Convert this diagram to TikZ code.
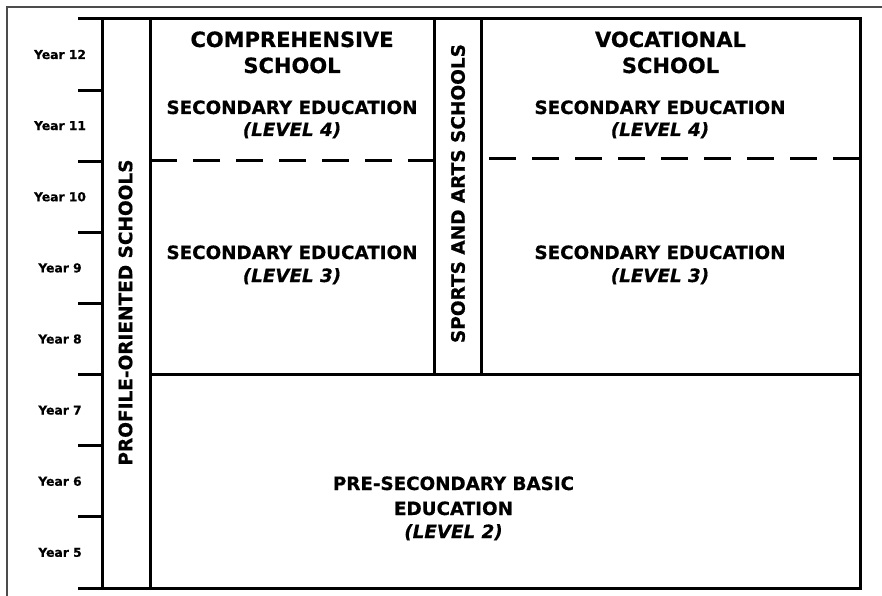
\documentclass[tikz,border=0pt]{standalone}
\usepackage{fontspec}
\setmainfont{DejaVu Sans}[BoldFeatures={FakeBold=0.6},BoldItalicFeatures={FakeBold=0.6}]
\begin{document}
\begin{tikzpicture}[x=1pt,y=-1pt,
  gridline/.style={line width=3pt,black},
  dashline/.style={line width=3pt,black,dash pattern=on 27pt off 16pt},
  pageframe/.style={line width=2pt,black!70},
  yearlabel/.style={inner sep=0pt,font=\bfseries\fontsize{12.3}{14}\selectfont},
  heading/.style={inner sep=0pt,anchor=base,font=\bfseries\fontsize{21}{25}\selectfont},
  bodytext/.style={inner sep=0pt,anchor=base,font=\bfseries\fontsize{18.3}{22}\selectfont},
  leveltext/.style={inner sep=0pt,anchor=base,font=\bfseries\itshape\fontsize{18.3}{22}\selectfont},
  sidetext/.style={inner sep=0pt,rotate=90,font=\bfseries\fontsize{18.5}{22}\selectfont}]
\useasboundingbox (0,0) rectangle (882,596);

% page frame, running off the right and bottom edges
\draw[pageframe] (7,620) -- (7,7) -- (900,7);

% outer box of the chart
\draw[gridline,line join=miter] (78,19) -- (860,19) -- (860,588) -- (78,588);
% year axis and the profile-oriented column
\draw[gridline] (102,19) -- (102,588);
\draw[gridline] (150,19) -- (150,588);
% year ticks
\foreach \k in {1,...,7}
  \draw[gridline] (78,{19+71.125*\k}) -- (102,{19+71.125*\k});
% sports and arts column
\draw[gridline] (434,19) -- (434,374);
\draw[gridline] (481,19) -- (481,374);
% boundary between basic and secondary education
\draw[gridline] (150,374) -- (860,374);
% boundary between level 3 and level 4
\draw[dashline] (150,161) -- (434,161);
\draw[dashline,dash phase=35pt] (481,159) -- (860,159);

% year labels
\foreach \yr [count=\i from 0] in {12,11,10,9,8,7,6,5}
  \node[yearlabel] (year\yr) at (60,{54.5+71.125*\i}) {Year \yr};

% side columns
\node[sidetext] (profile) at (125.5,312.5) {PROFILE-ORIENTED SCHOOLS};
\node[sidetext] (sports) at (458,193.5) {SPORTS AND ARTS SCHOOLS};

% comprehensive school
\node[heading] (comphead1) at (292,47) {COMPREHENSIVE};
\node[heading] (comphead2) at (292,73) {SCHOOL};
\node[bodytext] (compsec4) at (292,114) {SECONDARY EDUCATION};
\node[leveltext] (complev4) at (292,136) {(LEVEL 4)};
\node[bodytext] (compsec3) at (292,259) {SECONDARY EDUCATION};
\node[leveltext] (complev3) at (292,282) {(LEVEL 3)};

% vocational school
\node[heading] (vochead1) at (670.5,47) {VOCATIONAL};
\node[heading] (vochead2) at (670.5,73) {SCHOOL};
\node[bodytext] (vocsec4) at (660,114) {SECONDARY EDUCATION};
\node[leveltext] (voclev4) at (660,136) {(LEVEL 4)};
\node[bodytext] (vocsec3) at (660,259) {SECONDARY EDUCATION};
\node[leveltext] (voclev3) at (660,282) {(LEVEL 3)};

% basic education
\node[bodytext] (basic1) at (453.5,490) {PRE-SECONDARY BASIC};
\node[bodytext] (basic2) at (453.5,515) {EDUCATION};
\node[leveltext] (basic3) at (453.5,538) {(LEVEL 2)};
\end{tikzpicture}
\end{document}
